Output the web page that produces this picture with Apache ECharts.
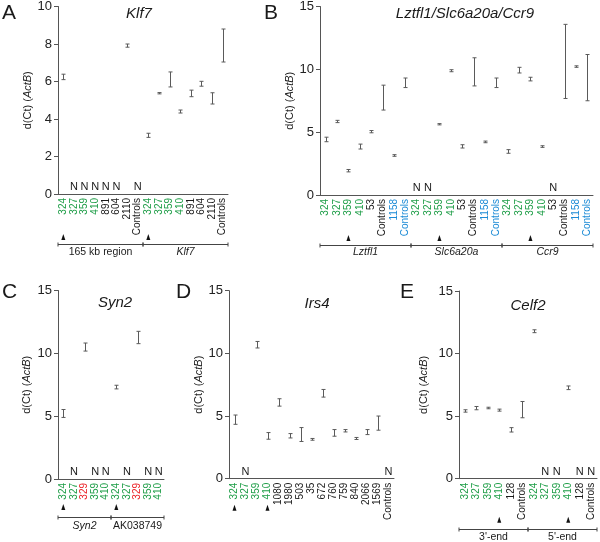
<!DOCTYPE html>
<html><head><meta charset="utf-8">
<script src="https://cdn.jsdelivr.net/npm/echarts@6/dist/echarts.min.js"></script>
<style>html,body{margin:0;padding:0;background:#fff}#c{width:600px;height:542px}</style>
</head><body><div id="c"></div>
<script>
// ---------- Panel A: Klf7 ----------
const catsA = ['324','327','359','410','891','604','2110','Controls','324','327','359','410','891','604','2110','Controls'];
const kindA = ['g','g','g','g','k','k','k','k','g','g','g','g','k','k','k','k'];
const lowA  = [6.10,null,null,null,null,null,7.83,null,3.02,5.34,5.71,4.32,5.19,5.75,4.80,7.04];
const highA = [6.39,null,null,null,null,null,8.00,null,3.24,5.41,6.51,4.48,5.54,6.01,5.40,8.80];
const ndA   = [0,1,1,1,1,1,0,1,0,0,0,0,0,0,0,0];
const arrowA = [0,8];
const groupNamesA = ['165 kb region','Klf7'];
const groupRangesA = [[0,7],[8,15]];
const ticksA = [0,2,4,6,8,10];

// ---------- Panel B: Lztfl1/Slc6a20a/Ccr9 ----------
const catsB = ['324','327','359','410','53','Controls','1158','Controls',
               '324','327','359','410','53','Controls','1158','Controls',
               '324','327','359','410','53','Controls','1158','Controls'];
const kindB = ['g','g','g','g','k','k','b','b','g','g','g','g','k','k','b','b','g','g','g','g','k','k','b','b'];
const lowB  = [4.24,5.76,1.84,3.66,4.95,6.76,3.08,8.55, null,null,5.58,9.81,3.74,8.68,4.16,8.55, 3.32,9.71,9.08,3.79,null,7.68,10.16,7.50];
const highB = [4.60,5.94,2.03,4.05,5.13,8.74,3.21,9.31, null,null,5.68,9.97,4.00,10.92,4.29,9.31, 3.61,10.16,9.37,3.92,null,13.58,10.28,11.18];
const ndB   = [0,0,0,0,0,0,0,0, 1,1,0,0,0,0,0,0, 0,0,0,0,1,0,0,0];
const arrowB = [2,10,18];
const groupNamesB = ['Lztfl1','Slc6a20a','Ccr9'];
const groupRangesB = [[0,7],[8,15],[16,23]];
const ticksB = [0,5,10,15];

// ---------- Panel C: Syn2 ----------
const catsC = ['324','327','329','359','410','324','327','329','359','410'];
const kindC = ['g','g','r','g','g','g','g','r','g','g'];
const lowC  = [4.90,null,10.18,null,null,7.17,null,10.77,null,null];
const highC = [5.53,null,10.82,null,null,7.46,null,11.75,null,null];
const ndC   = [0,1,0,1,1,0,1,0,1,1];
const arrowC = [0,5];
const groupNamesC = ['Syn2','AK038749'];
const groupRangesC = [[0,4],[5,9]];
const ticksC = [0,5,10,15];

// ---------- Panel D: Irs4 ----------
const catsD = ['324','327','359','410','1080','1980','503','35','672','760','759','840','2066','1569','Controls'];
const kindD = ['g','g','g','g','k','k','k','k','k','k','k','k','k','k','k'];
const lowD  = [4.34,null,10.43,3.15,5.79,3.25,2.97,3.07,6.51,3.39,3.73,3.13,3.52,3.87,null];
const highD = [5.08,null,10.95,3.68,6.38,3.60,4.08,3.21,7.12,3.92,3.92,3.29,3.92,5.00,null];
const ndD   = [0,1,0,0,0,0,0,0,0,0,0,0,0,0,1];
const arrowD = [0,3];
const groupNamesD = [];
const groupRangesD = [];
const ticksD = [0,5,10,15];

// ---------- Panel E: Celf2 ----------
const catsE = ['324','327','359','410','128','Controls','324','327','359','410','128','Controls'];
const kindE = ['g','g','g','g','k','k','g','g','g','g','k','k'];
const lowE  = [5.32,5.51,5.59,5.40,3.73,4.87,11.67,null,null,7.12,null,null];
const highE = [5.51,5.77,5.71,5.56,4.08,6.17,11.90,null,null,7.41,null,null];
const ndE   = [0,0,0,0,0,0,0,1,1,0,1,1];
const arrowE = [3,9];
const groupNamesE = ["3'-end","5'-end"];
const groupRangesE = [[0,5],[6,11]];
const ticksE = [0,5,10,15];

const italicNames = ['Klf7','Lztfl1','Slc6a20a','Ccr9','Syn2'];
const panelTitles = ['Klf7','Lztfl1/Slc6a20a/Ccr9','Syn2','Irs4','Celf2'];
const panelLetters = ['A','B','C','D','E'];

const FONT = '"Liberation Sans", Arial, Helvetica, sans-serif';
const COLORS = {g:'#1f9e48', k:'#1a1a1a', b:'#1c8bd6', r:'#ec2228'};
const AXIS = '#555';
const BAR = '#5a5a5a';

const panels = [
  {cats:catsA, kind:kindA, low:lowA, high:highA, nd:ndA, arrows:arrowA, gn:groupNamesA, gr:groupRangesA, ticks:ticksA,
   grid:{left:58, top:5, width:170, height:189}, nameGap:17, arrowOff:43, brOff:50, lblOff:58,
   title:{x:139, y:14}, letter:{x:2, y:13}},
  {cats:catsB, kind:kindB, low:lowB, high:highB, nd:ndB, arrows:arrowB, gn:groupNamesB, gr:groupRangesB, ticks:ticksB,
   grid:{left:320, top:5, width:273, height:190}, nameGap:23, arrowOff:43, brOff:50, lblOff:57,
   title:{x:465, y:14}, letter:{x:264, y:13}},
  {cats:catsC, kind:kindC, low:lowC, high:highC, nd:ndC, arrows:arrowC, gn:groupNamesC, gr:groupRangesC, ticks:ticksC,
   grid:{left:58, top:290.5, width:106, height:188.5}, nameGap:26, arrowOff:28, brOff:38, lblOff:47,
   title:{x:115, y:303}, letter:{x:2, y:292}},
  {cats:catsD, kind:kindD, low:lowD, high:highD, nd:ndD, arrows:arrowD, gn:groupNamesD, gr:groupRangesD, ticks:ticksD,
   grid:{left:229, top:290.7, width:165, height:188}, nameGap:24, arrowOff:29, brOff:0, lblOff:0,
   title:{x:317, y:304}, letter:{x:176, y:292}},
  {cats:catsE, kind:kindE, low:lowE, high:highE, nd:ndE, arrows:arrowE, gn:groupNamesE, gr:groupRangesE, ticks:ticksE,
   grid:{left:459, top:291, width:138, height:187.7}, nameGap:30, arrowOff:41, brOff:50, lblOff:58,
   title:{x:528, y:306}, letter:{x:400, y:292}}
];

const rich = {};
Object.keys(COLORS).forEach(k => { rich[k] = {color: COLORS[k], fontSize: 10, fontFamily: FONT}; });

const grids = [], xAxes = [], yAxes = [], series = [], graphics = [];

panels.forEach((p, k) => {
  grids.push(Object.assign({containLabel:false}, p.grid));
  xAxes.push({
    type:'category', gridIndex:k, data:p.cats, boundaryGap:true,
    axisLine:{lineStyle:{color:AXIS, width:1}},
    axisTick:{alignWithLabel:true, length:3, lineStyle:{color:AXIS}},
    axisLabel:{interval:0, rotate:90, margin:4, fontSize:10, fontFamily:FONT,
      formatter:(v, i) => '{' + p.kind[i] + '|' + v + '}', rich:rich},
    splitLine:{show:false}
  });
  const tmax = p.ticks[p.ticks.length-1];
  yAxes.push({
    type:'value', gridIndex:k, min:p.ticks[0], max:tmax, interval:p.ticks[1]-p.ticks[0],
    axisLine:{show:true, lineStyle:{color:AXIS, width:1}},
    axisTick:{show:true, length:4, lineStyle:{color:AXIS}},
    axisLabel:{fontSize:13, color:'#222', fontFamily:FONT, margin:6},
    splitLine:{show:false},
    name:'{n|d(Ct) (}{i|ActB}{n|)}', nameLocation:'middle', nameGap:p.nameGap, nameRotate:90,
    nameTextStyle:{rich:{n:{fontSize:11, color:'#222', fontFamily:FONT}, i:{fontSize:11, color:'#222', fontStyle:'italic', fontFamily:FONT}}}
  });

  // error bars
  const ebData = [];
  p.low.forEach((lo, i) => { if (lo !== null) ebData.push([i, lo, p.high[i]]); });
  series.push({
    type:'custom', xAxisIndex:k, yAxisIndex:k, silent:true, animation:false, clip:false,
    data: ebData,
    renderItem:(params, api) => {
      const x = api.value(0);
      const a = api.coord([x, api.value(1)]);
      const b = api.coord([x, api.value(2)]);
      const cx = Math.round(a[0]) + 0.5, w = 2;
      const st = {stroke:BAR, lineWidth:1};
      return {type:'group', children:[
        {type:'line', shape:{x1:cx, y1:a[1], x2:cx, y2:b[1]}, style:st},
        {type:'line', shape:{x1:cx-w, y1:a[1], x2:cx+w, y2:a[1]}, style:st},
        {type:'line', shape:{x1:cx-w, y1:b[1], x2:cx+w, y2:b[1]}, style:st}
      ]};
    }
  });

  // N (not detected) marks
  const nData = [];
  p.nd.forEach((f, i) => { if (f) nData.push([i, 0]); });
  series.push({
    type:'custom', xAxisIndex:k, yAxisIndex:k, silent:true, animation:false, clip:false,
    data:nData,
    renderItem:(params, api) => {
      const c = api.coord([api.value(0), 0]);
      return {type:'text', x:c[0], y:c[1]-1.5,
        style:{text:'N', fill:'#1a1a1a', font:'11px ' + FONT, align:'center', verticalAlign:'bottom', textAlign:'center', textVerticalAlign:'bottom'}};
    }
  });

  // arrowheads
  series.push({
    type:'custom', xAxisIndex:k, yAxisIndex:k, silent:true, animation:false, clip:false,
    data:p.arrows.map(i => [i, 0]),
    renderItem:(params, api) => {
      const c = api.coord([api.value(0), 0]);
      const x = c[0], y = c[1] + p.arrowOff;
      return {type:'polygon', shape:{points:[[x-2, y+3],[x+2, y+3],[x, y-3]]}, style:{fill:'#111'}};
    }
  });

  // group brackets
  if (p.gn.length) {
    series.push({
      type:'custom', xAxisIndex:k, yAxisIndex:k, silent:true, animation:false, clip:false,
      data:p.gr.map(r => [r[0], 0, r[1]]),
      renderItem:(params, api) => {
        const bw = api.size([1, 0])[0];
        const s = api.coord([api.value(0), 0]);
        const e = api.coord([api.value(2), 0]);
        const x1 = s[0] - bw/2, x2 = e[0] + bw/2;
        const y = Math.round(s[1] + p.brOff) + 0.5;
        const name = p.gn[params.dataIndex];
        const it = italicNames.indexOf(name) >= 0 ? 'italic ' : '';
        const st = {stroke:'#444', lineWidth:1};
        return {type:'group', children:[
          {type:'line', shape:{x1:x1, y1:y, x2:x2, y2:y}, style:st},
          {type:'line', shape:{x1:x1, y1:y-2, x2:x1, y2:y+2}, style:st},
          {type:'line', shape:{x1:x2, y1:y-2, x2:x2, y2:y+2}, style:st},
          {type:'text', x:(x1+x2)/2, y:s[1] + p.lblOff,
            style:{text:name, fill:'#1a1a1a', font:it + '10.5px ' + FONT, align:'center', verticalAlign:'middle', textAlign:'center', textVerticalAlign:'middle'}}
        ]};
      }
    });
  }

  graphics.push({type:'text', x:p.title.x, y:p.title.y, silent:true,
    style:{text:panelTitles[k], fill:'#1a1a1a', font:'italic 15px ' + FONT, align:'center', verticalAlign:'middle', textAlign:'center', textVerticalAlign:'middle'}});
  graphics.push({type:'text', x:p.letter.x, y:p.letter.y, silent:true,
    style:{text:panelLetters[k], fill:'#1a1a1a', font:'21px ' + FONT, align:'left', verticalAlign:'middle', textAlign:'left', textVerticalAlign:'middle'}});
});

const chart = echarts.init(document.getElementById('c'), null, {renderer:'canvas'});
chart.setOption({
  animation:false,
  backgroundColor:'#fff',
  grid:grids, xAxis:xAxes, yAxis:yAxes, series:series,
  graphic:{elements:graphics}
});
</script>
</body></html>
